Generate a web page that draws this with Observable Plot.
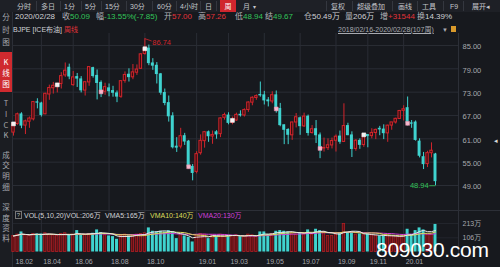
<!DOCTYPE html>
<html><head><meta charset="utf-8">
<script src="https://cdn.jsdelivr.net/npm/d3@7"></script>
<script src="https://cdn.jsdelivr.net/npm/@observablehq/plot@0.6"></script>
<style>
*{box-sizing:border-box}
html,body{margin:0;padding:0}
body{width:500px;height:267px;overflow:hidden;background:#17191e;position:relative;font-family:"Liberation Sans","Noto Sans CJK SC",sans-serif;color:#b4b6bb}
.a{position:absolute;white-space:nowrap;line-height:1}
.tb{font-size:7px;top:3px;color:#c4c6cb;font-family:"Liberation Sans","Noto Sans CJK SC",sans-serif}
.sep{position:absolute;top:1px;width:1px;height:10px;background:#34373f}
.r2{font-size:8px;top:13px}
.r3{font-size:7px;top:25.5px}
.g{color:#33c45a}.rd{color:#e0333a}.w{color:#d0d2d6}
.sb{font-size:7.5px;left:0;width:12px;text-align:center;color:#a8aab0;font-family:"Noto Sans CJK SC",sans-serif}
.vh{font-size:7px;top:212px}
.ln{position:absolute;background:#2c2f37}
#price,#vol{position:absolute;left:12px}
#price{top:33px}#vol{top:210px}
</style></head><body>
<div class="ln" style="left:0;top:0;width:500px;height:12px;background:#1e2026"></div>
<div class="ln" style="left:220px;top:0;width:16px;height:12px;background:#d0262e"></div>
<div class="a tb" style="left:17px">分时</div>
<div class="a tb" style="left:41px">多日</div>
<div class="a tb" style="left:64px">1分</div>
<div class="a tb" style="left:85px">5分</div>
<div class="a tb" style="left:105px">15分</div>
<div class="a tb" style="left:130px">30分</div>
<div class="a tb" style="left:157px">60分</div>
<div class="a tb" style="left:180px">4小时</div>
<div class="a tb" style="left:205px">日</div>
<div class="a tb" style="left:224.5px;color:#fff">周</div>
<div class="a tb" style="left:243px">月</div>
<div class="a tb" style="left:253px;font-size:6px;top:4px">▾</div>
<div class="a tb" style="left:331px">复权</div>
<div class="a tb" style="left:357px">超级叠加</div>
<div class="a tb" style="left:398px">画线</div>
<div class="a tb" style="left:422px">工具</div>
<div class="a tb" style="left:450px">F9</div>
<div class="a tb" style="left:472px">展开◂</div>
<div class="sep" style="left:36px"></div><div class="sep" style="left:60px"></div><div class="sep" style="left:81px"></div>
<div class="sep" style="left:101px"></div><div class="sep" style="left:126px"></div><div class="sep" style="left:152px"></div>
<div class="sep" style="left:176px"></div><div class="sep" style="left:200px"></div><div class="sep" style="left:216px"></div>
<div class="sep" style="left:326px"></div><div class="sep" style="left:352px"></div><div class="sep" style="left:392px"></div>
<div class="sep" style="left:417px"></div><div class="sep" style="left:443px"></div><div class="sep" style="left:463px"></div>

<div class="a r2 w" style="left:15px">2020/02/28</div>
<div class="a r2" style="left:62px">收</div><div class="a r2 g" style="left:70px">50.09</div>
<div class="a r2" style="left:96px">幅</div><div class="a r2 g" style="left:104px">-13.55%(-7.85)</div>
<div class="a r2" style="left:164px">开</div><div class="a r2 rd" style="left:172px">57.00</div>
<div class="a r2" style="left:198px">高</div><div class="a r2 rd" style="left:206px">57.26</div>
<div class="a r2" style="left:235px">低</div><div class="a r2 g" style="left:243px">48.94</div>
<div class="a r2" style="left:265px">结</div><div class="a r2 g" style="left:273px">49.67</div>
<div class="a r2" style="left:304px">仓</div><div class="a r2 w" style="left:312px">50.49万</div>
<div class="a r2" style="left:345px">量</div><div class="a r2 w" style="left:353px">206万</div>
<div class="a r2" style="left:380px">增</div><div class="a r2 rd" style="left:388px">+31544</div>
<div class="a r2" style="left:417px">换</div><div class="a r2 w" style="left:425px">14.39%</div>

<div class="a r3 w" style="left:13px">BJPE [ICE布油]</div>
<div class="a r3 rd" style="left:64px">周线</div>
<div class="a r3" style="left:338px;text-decoration:underline;color:#a8aab0">2018/02/16-2020/02/28(107周)</div>
<div class="a r3" style="left:442px;font-size:6px;top:26.5px;color:#a8aab0">▼</div>
<div class="ln" style="left:451px;top:26px;width:5px;height:6px;background:#d99a2b"></div>

<div class="ln" style="left:0;top:12px;width:12px;height:255px;background:#1b1d22"></div>
<div class="ln" style="left:12px;top:12px;width:1px;height:255px"></div>
<div class="ln" style="left:0;top:52px;width:12px;height:40px;background:#cf2a2f"></div>
<div class="a sb" style="top:13px">分</div><div class="a sb" style="top:26px">时</div><div class="a sb" style="top:38px">图</div>
<div class="a sb" style="top:58px;color:#fff">K</div><div class="a sb" style="top:69px;color:#fff">线</div><div class="a sb" style="top:80px;color:#fff">图</div>
<div class="a sb" style="top:99px">T</div><div class="a sb" style="top:110px">I</div><div class="a sb" style="top:121px">C</div><div class="a sb" style="top:131px">K</div>
<div class="a sb" style="top:151px">成</div><div class="a sb" style="top:161px">交</div><div class="a sb" style="top:172px">明</div><div class="a sb" style="top:183px">细</div>
<div class="a sb" style="top:203px">深</div><div class="a sb" style="top:214px">度</div><div class="a sb" style="top:224px">资</div><div class="a sb" style="top:234px">料</div>

<div id="price"></div>
<div id="vol"></div>
<div class="ln" style="left:458px;top:33px;width:1px;height:220px"></div>
<div class="ln" style="left:12px;top:210px;width:488px;height:1px"></div>

<div class="a vh" style="left:15px;top:211px;width:7px;height:8px;border:1px solid #777;font-size:6px;text-align:center;line-height:6px;color:#bbb">?</div>
<div class="a vh w" style="left:24px">VOL(5,10,20)</div>
<div class="a vh w" style="left:66px">VOL:206万</div>
<div class="a vh w" style="left:105px">VMA5:165万</div>
<div class="a vh" style="left:150px;color:#dede5a">VMA10:140万</div>
<div class="a vh" style="left:198px;color:#d040d8">VMA20:130万</div>
<div class="a" style="left:494px;top:137px;font-size:7px;color:#ddd">◂</div>
<div class="a" style="left:376px;top:239px;font-size:21px;color:#fff;letter-spacing:-0.3px">809030.com</div>

<script>
// ---- data (ICE Brent weekly) ----
const open = [62.6,64.8,67.3,64.4,65.4,66.0,70.4,70.1,67.3,72.4,
 74.0,74.6,75.1,77.3,79.3,74.8,76.9,76.3,73.4,75.5,
 79.2,77.2,75.4,73.1,74.0,73.3,72.7,71.8,75.9,77.5,
 76.8,78.0,79.0,82.8,84.2,80.4,79.8,77.6,72.8,70.2,
 66.8,59.0,59.0,61.7,60.3,53.8,52.5,57.3,60.4,62.7,
 61.6,62.7,62.2,66.4,67.0,65.1,65.7,67.2,67.0,68.4,
 70.3,71.5,72.3,72.2,70.9,70.6,72.2,68.7,64.5,63.3,
 61.9,65.2,66.3,64.2,66.7,62.5,63.5,61.9,58.5,58.6,
 59.3,60.5,61.6,60.2,64.3,61.9,58.4,60.5,59.4,62.0,
 61.7,62.5,63.6,63.4,62.4,64.4,65.2,66.1,68.2,68.9,
 65.0,65.2,60.3,56.3,54.5,57.3,57.00];
const high = [64.9,67.6,67.7,65.8,66.6,70.6,71.3,70.4,72.7,74.8,
 75.5,75.3,78.0,80.5,80.2,78.3,77.8,77.0,75.6,79.5,
 79.4,78.7,75.9,75.3,75.1,74.5,73.3,75.9,78.2,79.0,
 80.1,80.0,82.9,86.74,85.1,81.6,80.6,77.8,73.8,72.0,
 67.7,61.3,63.7,62.4,60.6,54.4,57.7,62.0,62.9,63.0,
 63.0,63.1,66.4,67.6,67.7,66.6,67.6,68.2,68.7,70.5,
 71.8,72.3,75.6,73.2,71.6,73.1,73.3,70.1,64.6,63.6,
 65.3,67.5,66.6,67.6,67.1,64.4,65.7,62.5,61.2,61.0,
 61.2,62.0,63.0,70.0,65.0,62.8,60.8,61.0,62.3,62.1,
 63.6,63.5,64.2,64.6,64.5,65.2,66.3,68.3,69.5,71.75,
 65.7,65.6,61.0,57.5,57.8,59.96,57.26];
const low = [61.7,64.5,63.6,62.1,63.7,65.6,68.7,66.6,67.2,70.9,
 72.5,72.8,73.8,76.8,76.2,74.5,74.2,72.8,72.0,74.5,
 76.6,71.0,71.6,72.2,71.8,71.7,70.3,71.4,75.3,75.6,
 76.2,77.3,78.9,82.5,79.8,78.6,75.1,72.2,69.5,65.3,
 58.4,57.5,58.4,59.3,53.2,50.2,52.0,56.8,58.6,60.1,
 59.6,60.9,61.3,65.8,64.6,64.6,65.5,66.6,66.6,67.8,
 69.5,70.9,71.7,69.7,69.2,70.0,67.6,64.1,59.5,59.5,
 60.6,63.8,61.9,63.9,61.7,62.2,59.8,55.9,57.6,58.0,
 58.4,57.6,59.6,60.2,61.8,56.2,57.8,58.3,58.8,58.7,
 61.0,60.8,61.8,60.8,60.1,63.2,64.8,66.0,65.6,64.3,
 63.7,60.4,56.1,53.1,53.6,56.1,48.94];
const close = [64.84,67.31,64.37,65.49,66.21,70.45,70.27,67.11,72.58,74.06,
 74.64,74.87,77.12,78.51,77.0,76.79,76.46,73.44,75.55,79.44,
 77.11,75.33,73.07,74.29,73.21,72.81,71.83,75.82,77.42,76.83,
 78.09,78.80,82.72,84.16,80.43,79.78,77.62,72.83,70.18,66.76,
 58.80,58.71,61.67,60.28,53.82,52.20,57.06,60.48,62.70,61.64,
 62.0,62.10,66.25,67.12,65.07,65.74,67.16,67.03,68.39,70.34,
 71.55,71.97,72.15,70.85,70.62,72.21,68.69,64.49,63.29,62.01,
 65.20,66.55,64.23,66.72,62.47,63.46,61.89,58.53,58.64,59.34,
 60.43,61.54,60.22,64.28,61.91,58.37,60.51,59.42,62.02,61.69,
 62.51,63.30,63.39,62.43,64.39,65.22,66.14,68.16,68.60,64.98,
 64.85,60.69,56.62,54.47,57.32,57.94,50.09];
// volume in 万手
const volume = [120,130,150,125,120,135,135,135,140,130,
 125,120,135,140,125,130,160,125,130,135,
 140,165,145,125,120,115,95,120,130,120,
 125,130,135,140,180,155,150,155,150,160,
 150,100,125,120,110,75,125,135,130,100,
 125,120,130,125,120,120,125,115,120,130,
 125,115,150,150,130,135,155,160,155,150,
 140,130,145,140,165,130,170,160,150,120,
 120,130,145,210,145,145,130,135,125,135,
 125,120,120,120,125,120,110,110,125,170,
 130,160,180,165,125,130,206];
const markerWeeks = [0,11,22,33,44,55,66,77,88,99];
const priceTicks = [49,55,61,67,73,79,85];
const volTicks = [106,213];
const tickMonths = ["2018-02","2018-04","2018-06","2018-08","2018-10","2019-01","2019-03","2019-05","2019-07","2019-09","2019-11","2020-01"];
const tickLabels = ["18.02","18.04","18.06","18.08","18.10","19.01","19.03","19.05","19.07","19.09","19.11","20.01"];

// ---- build ----
const RED="#d2252c", CYAN="#3fd3cf", GRID="#2a2d35", TXT="#a6a8ad", BG="#17191e";
const DAY=864e5, off=(d,k)=>new Date(+d+k*DAY);
const dates = d3.utcFriday.range(new Date(Date.UTC(2018,1,16)), new Date(Date.UTC(2020,1,29)));
const rows = dates.map((date,i)=>({i,date,open:open[i],high:high[i],low:low[i],close:close[i],volume:volume[i],up:close[i]>=open[i]}));
const ups = rows.filter(d=>d.up), downs = rows.filter(d=>!d.up);
const tickDates = tickMonths.map(m=>{const s=new Date(m+"-01T00:00:00Z");return dates.find(d=>d>=s);});
const gridDates = tickDates.slice(1);
const peak = rows.reduce((a,b)=>b.high>a.high?b:a);
const trough = rows.reduce((a,b)=>b.low<a.low?b:a);
const W=488;
const xs = {type:"utc", domain:[dates[0], dates[dates.length-1]], range:[1,423], axis:null};
const font = {fontFamily:"Liberation Sans, Noto Sans CJK SC, sans-serif", background:"transparent", overflow:"visible"};

const price = Plot.plot({
  width:W, height:177, marginTop:0, marginBottom:0, marginLeft:0, marginRight:42,
  style:font, x:xs,
  y:{domain:[49,85], range:[152,11.96], axis:null},
  marks:[
    Plot.ruleY(priceTicks,{stroke:GRID}),
    Plot.ruleX(gridDates,{stroke:GRID}),
    Plot.ruleX(rows,{x:"date", y1:"low", y2:"high", stroke:d=>d.up?RED:CYAN, strokeWidth:1}),
    Plot.rect(downs,{x1:d=>off(d.date,-2.6), x2:d=>off(d.date,2.6), y1:"open", y2:"close", fill:CYAN, insetTop:-0.4, insetBottom:-0.4}),
    Plot.rect(ups,{x1:d=>off(d.date,-2.1), x2:d=>off(d.date,2.1), y1:"open", y2:"close", fill:"#3a0d10", stroke:RED, strokeWidth:1}),
    Plot.dot(markerWeeks.map(i=>rows[i]),{x:"date", y:"close", symbol:"square", r:2.2, fill:d=>d.up?"#f2f2f2":"#f6b9cc", stroke:d=>d.up?"#ffffff":"#e88aa8", strokeWidth:0.5}),
    Plot.link([peak],{x1:"date", y1:"high", x2:d=>off(d.date,12), y2:d=>d.high-0.6, stroke:RED, strokeWidth:0.8}),
    Plot.text([peak],{x:d=>off(d.date,13), y:d=>d.high-0.9, text:d=>d.high.toFixed(2), textAnchor:"start", fill:RED, fontSize:7.5}),
    Plot.link([trough],{x1:d=>off(d.date,-11), y1:"low", x2:"date", y2:"low", stroke:"#33c45a", strokeWidth:0.8}),
    Plot.text([trough],{x:d=>off(d.date,-12), y:"low", text:d=>d.low.toFixed(2), textAnchor:"end", fill:"#33c45a", fontSize:7.5}),
    Plot.text(priceTicks,{y:d=>d, frameAnchor:"right", dx:4, dy:1.5, textAnchor:"start", text:d=>d.toFixed(2), fill:TXT, fontSize:7.5})
  ]
});
document.getElementById("price").appendChild(price);

const vol = Plot.plot({
  width:W, height:57, marginTop:0, marginBottom:14, marginLeft:0, marginRight:42,
  style:font, x:xs,
  y:{domain:[0,213], range:[41.5,13], axis:null},
  marks:[
    Plot.ruleY(volTicks,{stroke:GRID, strokeOpacity:0.6}),
    Plot.ruleX(gridDates,{stroke:GRID}),
    Plot.rect(ups,{x1:d=>off(d.date,-2.1), x2:d=>off(d.date,2.1), y1:0, y2:"volume", fill:"#5c1014", stroke:"#b01f25", strokeWidth:0.8}),
    Plot.rect(downs,{x1:d=>off(d.date,-2.6), x2:d=>off(d.date,2.6), y1:0, y2:"volume", fill:CYAN}),
    Plot.line(rows, Plot.windowY({k:20, anchor:"end"},{x:"date", y:"volume", stroke:"#d040d8", strokeWidth:1})),
    Plot.line(rows, Plot.windowY({k:10, anchor:"end"},{x:"date", y:"volume", stroke:"#dede5a", strokeWidth:1})),
    Plot.line(rows, Plot.windowY({k:5, anchor:"end"},{x:"date", y:"volume", stroke:"#e6e6e6", strokeWidth:1})),
    Plot.text(volTicks,{y:d=>d, frameAnchor:"right", dx:4, textAnchor:"start", text:d=>d+"万", fill:TXT, fontSize:7}),
    Plot.text(tickDates,{x:d=>d, frameAnchor:"bottom", dy:10, dx:2, textAnchor:"start", text:(d,i)=>tickLabels[i], fill:TXT, fontSize:7})
  ]
});
document.getElementById("vol").appendChild(vol);
</script>
</body></html>
